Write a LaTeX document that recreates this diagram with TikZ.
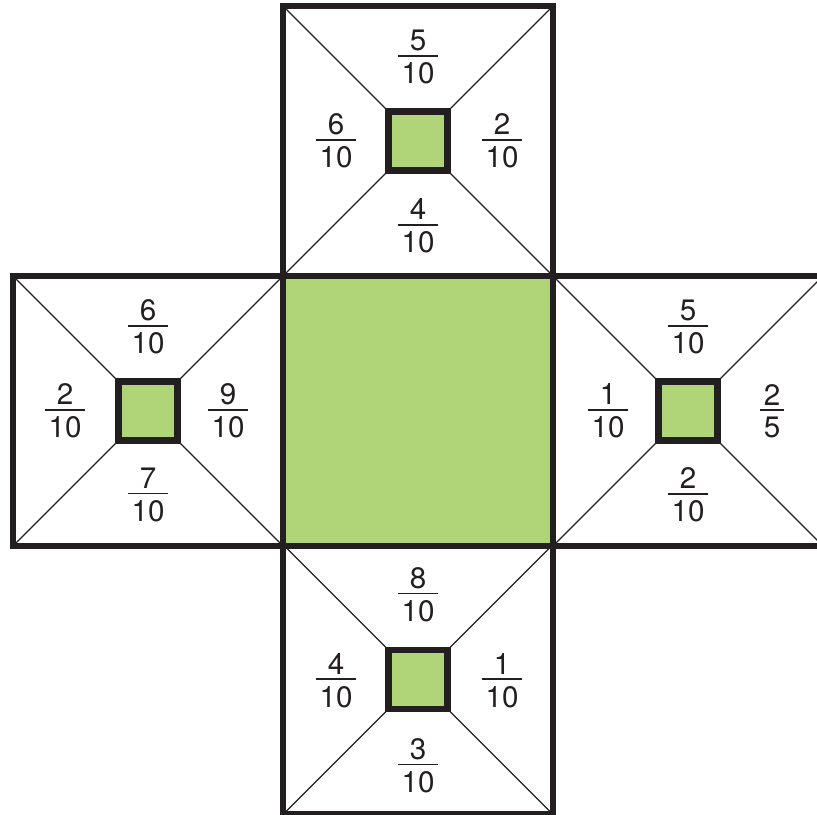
\documentclass[tikz,border=0pt]{standalone}
\usepackage{fontspec}
\setmainfont{TeX Gyre Heros}
\usepackage{tikz}
\usetikzlibrary{positioning}

\definecolor{leafgreen}{RGB}{176,212,120}
\definecolor{inkblack}{RGB}{35,31,32}

% stacked fraction: bar a little wider than the digits
\newcommand{\fr}[2]{\vbox{\offinterlineskip\halign{\hfil\kern2pt##\kern2pt\hfil\cr #1\cr
  \noalign{\kern2pt\hrule height0.8pt\kern3pt}#2\cr}}}

\begin{document}
\begin{tikzpicture}[x=0.5pt, y=-0.5pt,
    frame/.style={draw=inkblack, line width=3.25pt},
    diag/.style={draw=inkblack, line width=0.65pt},
    hole/.style={frame, fill=leafgreen},
    frac/.style={inner sep=0pt, text=inkblack, font=\fontsize{14.8}{16}\selectfont}]
    \useasboundingbox (0,0) rectangle (817,814);
    \clip (0,0) rectangle (817,814);

    % Centres of the five squares of the net
    \coordinate (C) at (418,411);
    \coordinate (T) at (418,141);
    \coordinate (B) at (418,679.5);
    \coordinate (L) at (148,411);
    \coordinate (R) at (688,411);

    % Outer faces: diagonals, frame and small green square
    \foreach \c in {T,B,L,R} {
        \foreach \sx/\sy in {1/1,1/-1,-1/1,-1/-1}
            \draw[diag] ([shift={(135*\sx,135*\sy)}]\c) -- ([shift={(29.5*\sx,29.5*\sy)}]\c);
        \draw[frame] ([shift={(-135,-135)}]\c) rectangle ([shift={(135,135)}]\c);
        \draw[hole] ([shift={(-29.5,-29.5)}]\c) rectangle ([shift={(29.5,29.5)}]\c);
    }

    % Middle face
    \draw[hole] ([shift={(-135,-135)}]C) rectangle ([shift={(135,135)}]C);

    % Top face
    \node[frac] (topN) at ([shift={(0,-84)}]T) {\fr{5}{10}};
    \node[frac] (topW) at ([shift={(-82,0)}]T) {\fr{6}{10}};
    \node[frac] (topE) at ([shift={(84,0)}]T) {\fr{2}{10}};
    \node[frac] (topS) at ([shift={(0,85)}]T) {\fr{4}{10}};

    % Left face
    \node[frac] (leftN) at ([shift={(0,-84)}]L) {\fr{6}{10}};
    \node[frac] (leftW) at ([shift={(-83,0)}]L) {\fr{2}{10}};
    \node[frac] (leftE) at ([shift={(80,0)}]L) {\fr{9}{10}};
    \node[frac] (leftS) at ([shift={(0,84)}]L) {\fr{7}{10}};

    % Right face
    \node[frac] (rightN) at ([shift={(0,-84)}]R) {\fr{5}{10}};
    \node[frac] (rightW) at ([shift={(-80,0)}]R) {\fr{1}{10}};
    \node[frac] (rightE) at ([shift={(84,0)}]R) {\fr{2}{5}};
    \node[frac] (rightS) at ([shift={(0,84)}]R) {\fr{2}{10}};

    % Bottom face
    \node[frac] (botN) at ([shift={(0,-85)}]B) {\fr{8}{10}};
    \node[frac] (botW) at ([shift={(-82,1)}]B) {\fr{4}{10}};
    \node[frac] (botE) at ([shift={(84,1)}]B) {\fr{1}{10}};
    \node[frac] (botS) at ([shift={(0,86)}]B) {\fr{3}{10}};
\end{tikzpicture}
\end{document}
